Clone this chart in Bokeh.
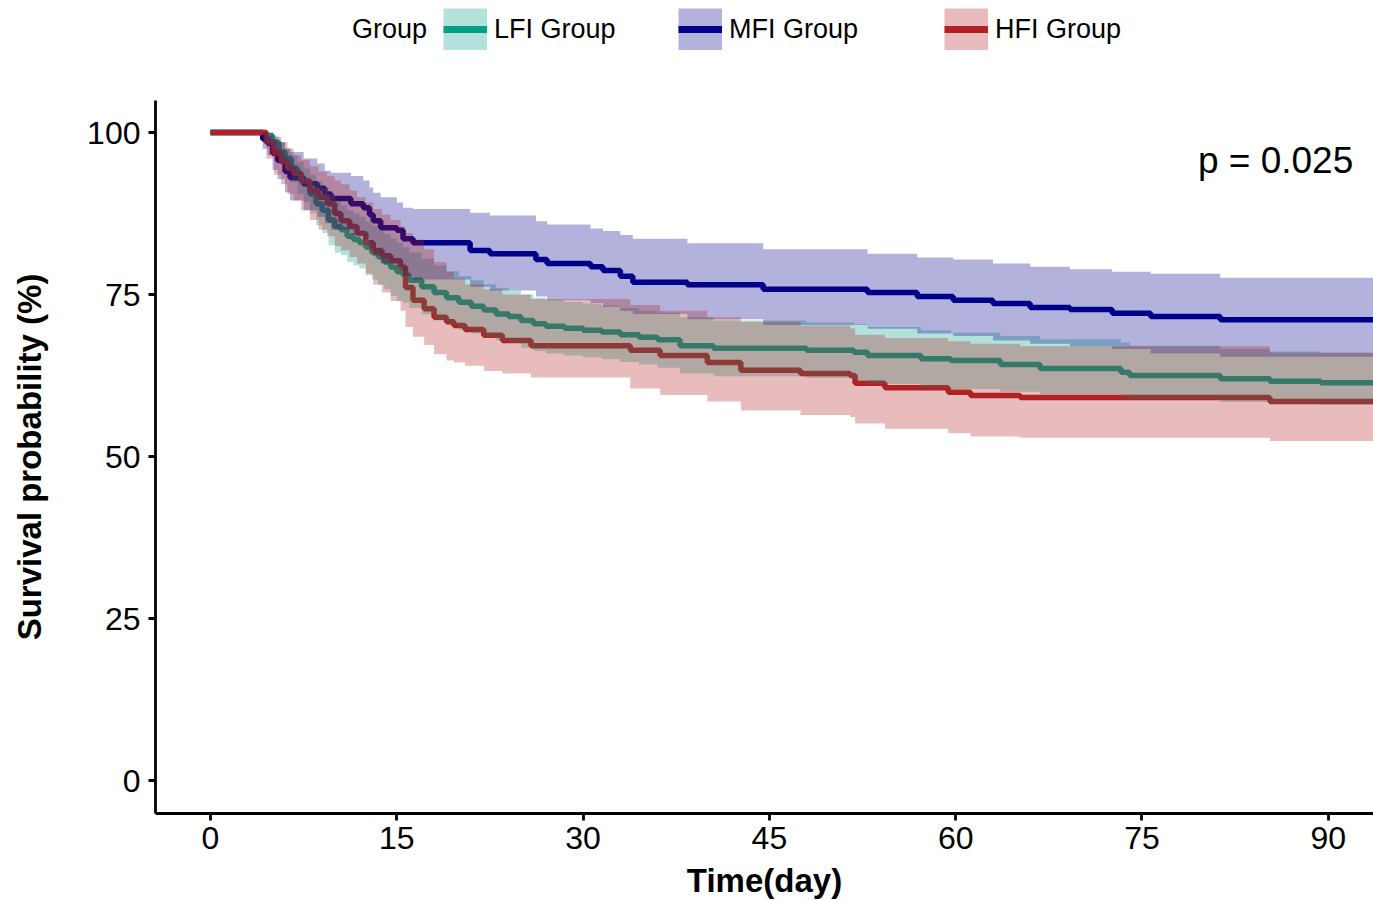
from bokeh.plotting import figure
from bokeh.layouts import column
from bokeh.models import Range1d, Legend, LegendItem, Label, FixedTicker
from bokeh.embed import file_html
from bokeh.resources import INLINE

# ---------------- data ----------------
groups = ["LFI Group", "MFI Group", "HFI Group"]
colors = ["#00A087", "#00008B", "#B22222"]

lfi_time = [0, 4.5, 5, 5.5, 6, 6.5, 7, 7.5, 8, 8.5, 9, 9.5, 10, 10.5, 11, 11.5, 12, 12.5,
            13, 13.5, 14, 14.5, 15, 15.5, 16, 17, 18, 19, 20, 21, 22, 23, 24, 25, 26, 27,
            28.5, 30, 31.5, 33, 34.5, 36, 37.8, 40.5, 48, 51.8, 52.9, 57.2, 59.6, 63.6,
            66.8, 73.3, 74, 81.3, 85.3, 89.4]
lfi_surv = [100, 99.5, 98.5, 97, 96, 94.5, 93, 92, 90.5, 89, 88, 86.5, 85.5, 85, 84, 83.5,
            83, 82.3, 81.5, 80.8, 80, 79.2, 78.5, 78, 77.2, 76.2, 75.3, 74.5, 73.8, 73.2,
            72.6, 72, 71.6, 71, 70.5, 70.1, 69.8, 69.5, 69.2, 68.8, 68.4, 68, 67.1, 66.7,
            66.4, 66.1, 65.6, 65.1, 64.8, 64.2, 63.6, 63, 62.5, 62, 61.6, 61.4]
lfi_upper = [100, 100, 99.5, 98.5, 97.6, 96.5, 95.5, 94.5, 93.5, 92.5, 91.5, 90.5, 89.5,
             88.8, 88, 87.5, 87, 86.3, 85.7, 85, 84.3, 83.6, 83, 82.3, 81.5, 80.5, 79.5,
             78.6, 77.8, 77.2, 76.6, 76, 75.6, 75, 74.5, 74.2, 73.9, 73.6, 73.3, 72.9,
             72.5, 72.2, 71.5, 71, 70.7, 70.4, 70, 69.5, 69.1, 68.6, 68.1, 67.6, 67.1,
             66.6, 66.2, 66]
lfi_lower = [100, 98.5, 97.3, 95.5, 94.3, 92.3, 90.5, 89.3, 87.5, 85.7, 84.5, 82.6, 81.5,
             81.1, 80, 79.5, 79, 78.3, 77.3, 76.5, 75.8, 74.8, 74, 73.7, 72.9, 71.9, 71,
             70.3, 69.6, 69, 68.4, 67.9, 67.5, 66.8, 66.3, 65.9, 65.6, 65.3, 65, 64.6,
             64.2, 63.7, 62.8, 62.4, 62.1, 61.8, 61.2, 60.7, 60.4, 60, 59.6, 59.2, 58.8,
             58.4, 58.1, 58]

mfi_time = [0, 4.2, 4.6, 5, 5.4, 6, 6.4, 7.5, 8.6, 9.2, 9.7, 11.3, 12.3, 12.8, 13.1, 13.7,
            15, 15.5, 16.3, 20.9, 22.5, 26.2, 27.1, 30.6, 31.6, 33, 34, 38.4, 44.5, 52.9,
            56.9, 59.8, 63, 66, 69.2, 72.6, 75.7, 81.3]
mfi_surv = [100, 99, 98.3, 96.8, 95.7, 94, 93, 92.1, 91.4, 90.5, 89.8, 89, 88.4, 87.3,
            86.4, 85.3, 84.9, 83.6, 83, 81.8, 81.3, 80.4, 79.8, 79.3, 78.7, 77.8, 76.9,
            76.5, 75.8, 75.3, 74.7, 74.1, 73.6, 73, 72.7, 72.1, 71.6, 71.1]
mfi_upper = [100, 100, 99.5, 99, 98.5, 97.5, 97, 96, 95.2, 94.1, 93.8, 93.3, 92.6, 91.5,
             90.7, 90, 89.2, 88.4, 88.2, 87.6, 87.2, 86.3, 85.8, 85.2, 84.8, 84.2, 83.6,
             82.9, 82, 81.3, 80.7, 80.4, 79.8, 79.3, 78.9, 78.5, 78.2, 77.6]
mfi_lower = [100, 97.5, 96.5, 94.2, 92.8, 90.8, 89.5, 88, 87, 86, 85, 84.2, 83.5, 82.1,
             81, 79.8, 79.3, 77.9, 77.3, 76.2, 75.6, 74.7, 74.1, 73.7, 73.1, 72.5, 72,
             71.2, 70.3, 69.7, 69, 68.6, 67.9, 67.4, 67, 66.6, 65.9, 65.4]

hfi_time = [0, 4.5, 5.1, 5.7, 6.2, 6.7, 7.3, 8, 8.7, 9.4, 10, 10.5, 11.2, 11.8, 12.5, 13.1,
            13.8, 14.5, 15.3, 15.7, 16.3, 17.2, 18, 19, 19.6, 20.5, 22, 23.5, 25.8, 33.8,
            36.2, 40, 42.7, 47.5, 51.5, 51.9, 54.3, 59.4, 61.2, 65.2, 85.3]
hfi_surv = [100, 98.5, 96.8, 95.5, 94.5, 93.7, 92.5, 91, 90, 89, 87.5, 86.4, 85.5, 84.4,
            83, 81.8, 81, 80.2, 79.2, 76.1, 74.1, 72.8, 71.5, 70.8, 70.2, 69.6, 68.7,
            67.9, 67.1, 66.4, 65.6, 64.5, 63.3, 62.8, 62.5, 61.3, 60.6, 59.9, 59.4, 59.1,
            58.5]
hfi_upper = [100, 100, 99.3, 98.5, 97.5, 96.5, 95.8, 94.8, 94, 93.3, 92.6, 92, 91, 90,
             89.2, 88.2, 87.3, 86.5, 85.5, 84.5, 83.5, 82, 80, 78.5, 77.5, 76.6, 75.8, 75,
             74.3, 73.4, 72.5, 71.5, 70.8, 70.2, 69.8, 68.8, 68.3, 67.8, 67.4, 67, 66]
hfi_lower = [100, 96, 93.5, 92, 90.5, 89.5, 88, 86.5, 85, 84, 82.5, 81.8, 80.8, 79.8, 78,
             76.5, 75.3, 74, 72.5, 70, 68.5, 67.2, 65.8, 64.8, 64.5, 64, 63.2, 62.8, 62.2,
             60.5, 59.5, 58.5, 57.1, 56.4, 56.1, 55.1, 54.3, 53.6, 53.1, 52.9, 52.4]

x_ticks = [0, 15, 30, 45, 60, 75, 90]
y_ticks = [0, 25, 50, 75, 100]
p_value = "0.025"
x_title = "Time(day)"
y_title = "Survival probability (%)"
legend_title = "Group"

series = [
    (lfi_time, lfi_surv, lfi_upper, lfi_lower),
    (mfi_time, mfi_surv, mfi_upper, mfi_lower),
    (hfi_time, hfi_surv, hfi_upper, hfi_lower),
]

# ---------------- layout constants ----------------
FONT = "Liberation Sans"
W, H = 1373, 901
LEGEND_H = 100          # height of the legend strip above the panel
FRAME_LEFT = 155        # px of the left axis line
BOTTOM_BORDER = 88
X_MIN, X_MAX = -4.43, 93.64
Y_MIN, Y_MAX = -5.09, 104.94

# ---------------- main figure ----------------
p = figure(width=W, height=H - LEGEND_H,
           x_range=Range1d(X_MIN, X_MAX), y_range=Range1d(Y_MIN, Y_MAX),
           output_backend="svg", toolbar_location=None,
           min_border_left=FRAME_LEFT, min_border_right=0,
           min_border_top=0, min_border_bottom=BOTTOM_BORDER)
p.xgrid.visible = False
p.ygrid.visible = False
p.outline_line_color = None
p.background_fill_color = "white"
p.border_fill_color = "white"


def extend(vals, end_val):
    return list(vals) + [end_val]


# lines first (the ribbons are laid over them, as in the reference)
for (t, s, u, l), c in zip(series, colors):
    p.step(x=extend(t, X_MAX), y=extend(s, s[-1]), mode="after",
           line_color=c, line_width=5.5)

for (t, s, u, l), c in zip(series, colors):
    p.varea_step(x=extend(t, X_MAX), y1=extend(l, l[-1]), y2=extend(u, u[-1]),
                 step_mode="after", fill_color=c, fill_alpha=0.3)

# axes
p.xaxis.ticker = FixedTicker(ticks=x_ticks)
p.yaxis.ticker = FixedTicker(ticks=y_ticks)
p.xaxis.axis_label = x_title
p.yaxis.axis_label = y_title
for ax in (p.xaxis[0], p.yaxis[0]):
    ax.axis_line_color = "black"
    ax.axis_line_width = 2.8
    ax.major_tick_line_color = "black"
    ax.major_tick_line_width = 2.8
    ax.major_tick_out = 7
    ax.major_tick_in = 0
    ax.minor_tick_line_color = None
    ax.major_label_text_font = FONT
    ax.major_label_text_font_size = "32px"
    ax.major_label_text_color = "black"
    ax.axis_label_text_font = FONT
    ax.axis_label_text_font_size = "33px"
    ax.axis_label_text_font_style = "bold"
    ax.axis_label_text_color = "black"
p.xaxis.major_label_standoff = 6
p.yaxis.major_label_standoff = 8
p.xaxis.axis_label_standoff = 10
p.yaxis.axis_label_standoff = 36

# p-value
p.add_layout(Label(x=79.5, y=95.7, text="p = " + p_value, text_font=FONT,
                   text_font_size="37px", text_baseline="middle",
                   text_color="black"))

# ---------------- legend strip ----------------
lg = figure(width=W, height=LEGEND_H, x_range=Range1d(0, 1), y_range=Range1d(0, 1),
            output_backend="svg", toolbar_location=None,
            x_axis_location=None, y_axis_location=None,
            min_border_left=0, min_border_right=0, min_border_top=0, min_border_bottom=0)
lg.xgrid.visible = False
lg.ygrid.visible = False
lg.outline_line_color = None
lg.background_fill_color = "white"
lg.border_fill_color = "white"

LEG_BOTTOM = 50   # px (from the top of the page) of the legend row's bottom edge


def make_legend(items, left_px, glyph_w):
    # the column aligns the strip's frame with the main frame (which starts at FRAME_LEFT)
    leg = Legend(items=items, location=(left_px - FRAME_LEFT, LEGEND_H - LEG_BOTTOM),
                 orientation="horizontal", glyph_width=glyph_w, glyph_height=42,
                 label_standoff=7 if glyph_w else 0, padding=0, margin=0,
                 spacing=0, border_line_color=None, background_fill_alpha=0,
                 label_text_font=FONT, label_text_font_size="27px",
                 label_text_color="black", label_height=42)
    lg.add_layout(leg, "center")


# one-point key renderers: they draw nothing in the strip, only the legend keys
title_r = lg.line(x=[0], y=[0], line_alpha=0)
make_legend([LegendItem(label=legend_title, renderers=[title_r])], 352, 0)

legend_lefts = [443, 678, 944]
for g, c, left in zip(groups, colors, legend_lefts):
    box_r = lg.line(x=[0], y=[0], line_color=c, line_alpha=0.3, line_width=42)
    key_r = lg.line(x=[0], y=[0], line_color=c, line_width=7)
    make_legend([LegendItem(label=g, renderers=[box_r, key_r])], left, 44)

layout = column(lg, p, spacing=0)
open("out.html", "w").write(file_html(layout, INLINE))
